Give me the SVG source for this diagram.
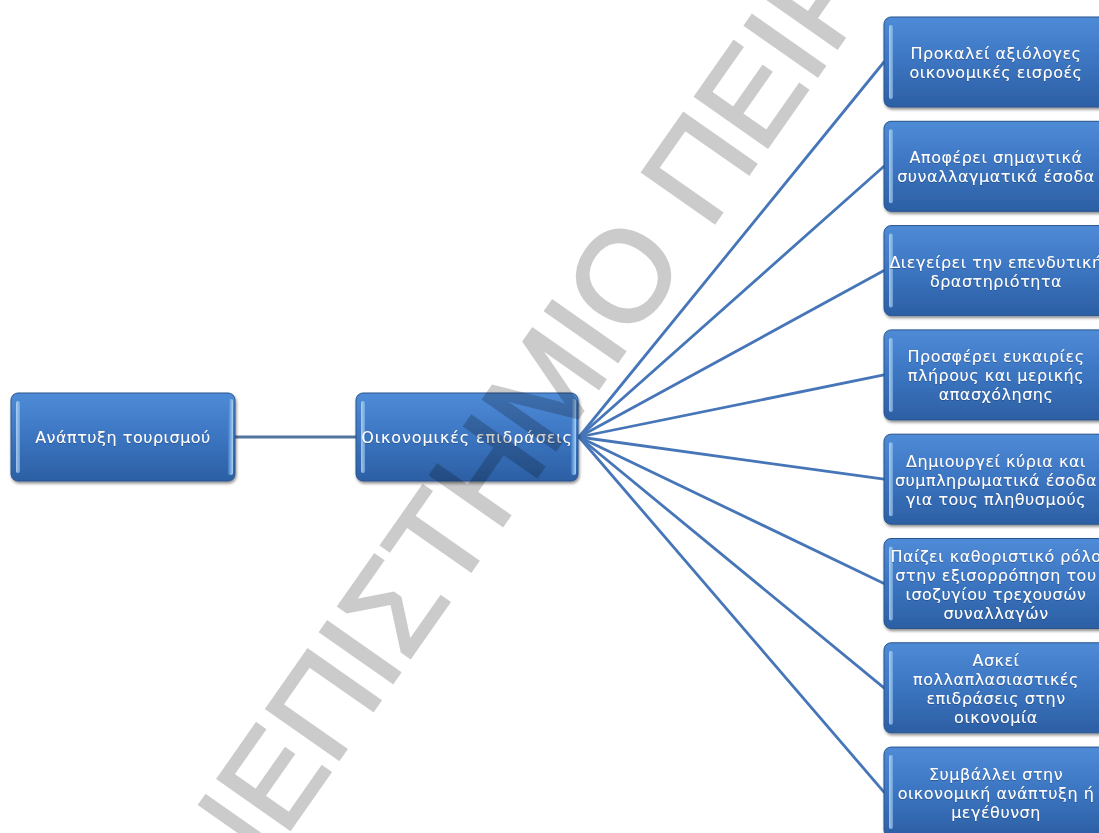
<svg xmlns="http://www.w3.org/2000/svg" width="1099" height="833" viewBox="0 0 1099 833">
<defs>
<linearGradient id="gBox" x1="0" y1="0" x2="0" y2="1">
<stop offset="0" stop-color="#4f8bd7"/>
<stop offset="0.45" stop-color="#3d77c3"/>
<stop offset="1" stop-color="#2c5fa4"/>
</linearGradient>
<linearGradient id="gL" x1="0" y1="0" x2="1" y2="0">
<stop offset="0" stop-color="#d8ecff"/>
<stop offset="1" stop-color="#7fb3e8"/>
</linearGradient>
<linearGradient id="gR" x1="0" y1="0" x2="1" y2="0">
<stop offset="0" stop-color="#3d79c5"/>
<stop offset="1" stop-color="#aad4f8"/>
</linearGradient>
<filter id="sh" x="-10%" y="-10%" width="120%" height="130%">
<feDropShadow dx="1" dy="2" stdDeviation="1.5" flood-color="#000" flood-opacity="0.45"/>
</filter>
<filter id="ts" x="-5%" y="-20%" width="110%" height="140%">
<feDropShadow dx="0" dy="0.6" stdDeviation="0.6" flood-color="#123a6e" flood-opacity="0.8"/>
</filter>
</defs>
<style>
.body{fill:url(#gBox);stroke:#2a548e;stroke-width:1}
.hl{fill:url(#gL);opacity:0.7}
.hr{fill:url(#gR)}
.node{filter:url(#sh)}
.lbl{font-family:"DejaVu Sans","Noto Sans",sans-serif;font-size:16px;letter-spacing:0.5px;fill:#ffffff;text-anchor:middle;filter:url(#ts)}
.wide{letter-spacing:0.9px}
.conn line{stroke:#4676b8;stroke-width:2.8;stroke-linecap:round;fill:none}
.conn line.main{stroke:#52749f;stroke-width:3.2}
.wm{font-family:"Liberation Sans",Arial,sans-serif;font-size:128px;fill:#000;stroke:#000;stroke-width:3}
</style>
<rect width="1099" height="833" fill="#ffffff"/>
<g id="connectors" class="conn">
<line class="main" x1="235" y1="437" x2="356" y2="437"/>
<line x1="579" y1="437" x2="884" y2="62"/>
<line x1="579" y1="437" x2="884" y2="166.3"/>
<line x1="579" y1="437" x2="884" y2="270.6"/>
<line x1="579" y1="437" x2="884" y2="374.9"/>
<line x1="579" y1="437" x2="884" y2="479.2"/>
<line x1="579" y1="437" x2="884" y2="583.5"/>
<line x1="579" y1="437" x2="884" y2="687.8"/>
<line x1="579" y1="437" x2="884" y2="792.1"/>
</g>
<g id="nA" class="node" transform="translate(11,393)">
<rect class="body" width="224" height="88" rx="7"/>
<rect class="hl" x="5" y="8" width="4" height="72" rx="2"/>
<rect class="hr" x="217" y="6" width="5" height="76" rx="2"/>
<text class="lbl" x="112" y="50">Ανάπτυξη τουρισμού</text>
</g>
<g id="nB" class="node" transform="translate(356,393)">
<rect class="body" width="222" height="88" rx="7"/>
<rect class="hl" x="5" y="8" width="4" height="72" rx="2"/>
<rect class="hr" x="215" y="6" width="5" height="76" rx="2"/>
<text class="lbl wide" x="111" y="50">Οικονομικές επιδράσεις</text>
</g>
<g id="n1" class="node" transform="translate(884,17)">
<rect class="body" width="224" height="90" rx="7"/>
<rect class="hl" x="5" y="8" width="4" height="74" rx="2"/>
<text class="lbl" x="112" y="42">Προκαλεί αξιόλογες</text>
<text class="lbl" x="112" y="61">οικονομικές εισροές</text>
</g>
<g id="n2" class="node" transform="translate(884,121.3)">
<rect class="body" width="224" height="90" rx="7"/>
<rect class="hl" x="5" y="8" width="4" height="74" rx="2"/>
<text class="lbl" x="112" y="42">Αποφέρει σημαντικά</text>
<text class="lbl" x="112" y="61">συναλλαγματικά έσοδα</text>
</g>
<g id="n3" class="node" transform="translate(884,225.6)">
<rect class="body" width="224" height="90" rx="7"/>
<rect class="hl" x="5" y="8" width="4" height="74" rx="2"/>
<text class="lbl" x="112" y="42">Διεγείρει την επενδυτική</text>
<text class="lbl" x="112" y="61">δραστηριότητα</text>
</g>
<g id="n4" class="node" transform="translate(884,329.9)">
<rect class="body" width="224" height="90" rx="7"/>
<rect class="hl" x="5" y="8" width="4" height="74" rx="2"/>
<text class="lbl" x="112" y="32.5">Προσφέρει ευκαιρίες</text>
<text class="lbl" x="112" y="51.5">πλήρους και μερικής</text>
<text class="lbl" x="112" y="70.5">απασχόλησης</text>
</g>
<g id="n5" class="node" transform="translate(884,434.2)">
<rect class="body" width="224" height="90" rx="7"/>
<rect class="hl" x="5" y="8" width="4" height="74" rx="2"/>
<text class="lbl" x="112" y="32.5">Δημιουργεί κύρια και</text>
<text class="lbl" x="112" y="51.5">συμπληρωματικά έσοδα</text>
<text class="lbl" x="112" y="70.5">για τους πληθυσμούς</text>
</g>
<g id="n6" class="node" transform="translate(884,538.5)">
<rect class="body" width="224" height="90" rx="7"/>
<rect class="hl" x="5" y="8" width="4" height="74" rx="2"/>
<text class="lbl" x="112" y="23">Παίζει καθοριστικό ρόλο</text>
<text class="lbl" x="112" y="42">στην εξισορρόπηση του</text>
<text class="lbl" x="112" y="61">ισοζυγίου τρεχουσών</text>
<text class="lbl" x="112" y="80">συναλλαγών</text>
</g>
<g id="n7" class="node" transform="translate(884,642.8)">
<rect class="body" width="224" height="90" rx="7"/>
<rect class="hl" x="5" y="8" width="4" height="74" rx="2"/>
<text class="lbl" x="112" y="23">Ασκεί</text>
<text class="lbl" x="112" y="42">πολλαπλασιαστικές</text>
<text class="lbl" x="112" y="61">επιδράσεις στην</text>
<text class="lbl" x="112" y="80">οικονομία</text>
</g>
<g id="n8" class="node" transform="translate(884,747.1)">
<rect class="body" width="224" height="90" rx="7"/>
<rect class="hl" x="5" y="8" width="4" height="74" rx="2"/>
<text class="lbl" x="112" y="32.5">Συμβάλλει στην</text>
<text class="lbl" x="112" y="51.5">οικονομική ανάπτυξη ή</text>
<text class="lbl" x="112" y="70.5">μεγέθυνση</text>
</g>
<g id="watermark" opacity="0.2" transform="translate(622,275) rotate(-55)">
<text class="wm" x="-925" y="46">ΠΑΝΕΠΙΣΤΗΜΙΟ ΠΕΙΡΑΙΩΣ</text>
</g>
</svg>
